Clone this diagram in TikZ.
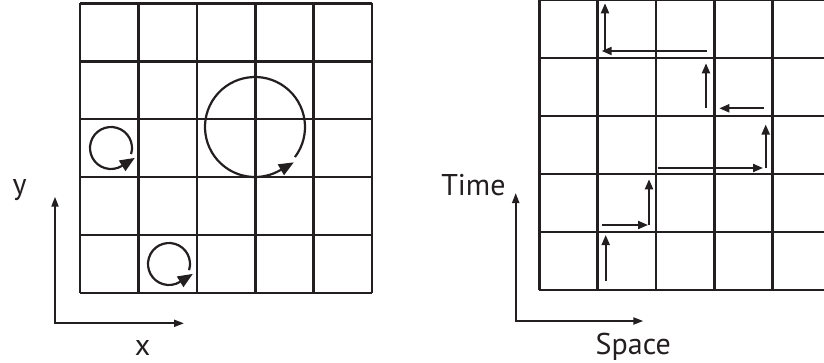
\documentclass[tikz,border=0pt]{standalone}
\usepackage{fontspec}
\setmainfont{PT Sans}
\usetikzlibrary{arrows.meta,calc}
\definecolor{ink}{RGB}{35,31,32}
\begin{document}
\begin{tikzpicture}[x=1pt,y=-1pt,
  gridline/.style={line width=2.6pt, draw=ink},
  steparrow/.style={line width=2pt, draw=ink, -{Triangle[length=10pt,width=8pt]}},
  axisarrow/.style={line width=2pt, draw=ink, line join=miter,
    {Triangle[length=10pt,width=7pt]}-{Triangle[length=10pt,width=7pt]}},
  loopline/.style={line width=2.2pt, draw=ink},
  looptip/.style={line width=2.2pt, draw=ink, fill=ink, -{Triangle[length=15pt,width=12pt]}},
  lbl/.style={font=\fontsize{30}{36}\selectfont, text=ink, inner sep=0pt, anchor=base}]
\useasboundingbox (0,0) rectangle (824,362);
\clip (0,0) rectangle (824,362);

% ---------- left grid ----------
\foreach \i in {0,...,5} {
  \draw[gridline] ({80+58.4*\i},3.3) -- ({80+58.4*\i},292.8);
  \draw[gridline] (80,{3.3+57.9*\i}) -- (372,{3.3+57.9*\i});
}

% loops
\coordinate (c1) at (111,148);
\coordinate (c2) at (169,264);
\coordinate (c3) at (255,127);
\draw[loopline] ($(c1)+(17:21)$) arc[start angle=17, end angle=-302, radius=21];
\draw[looptip] ($(c1)+(58:21)$) coordinate (t1) -- ($(t1)+(-32:15)$);
\draw[loopline] ($(c2)+(17:21)$) arc[start angle=17, end angle=-302, radius=21];
\draw[looptip] ($(c2)+(58:21)$) coordinate (t2) -- ($(t2)+(-32:15)$);
\draw[loopline] ($(c3)+(37:50)$) arc[start angle=37, end angle=-300, radius=50];
\draw[looptip] ($(c3)+(60:50)$) coordinate (t3) -- ($(t3)+(-30:16)$);

% left axes
\coordinate (lyt) at (55,196.7);
\coordinate (lo) at (55,323.3);
\coordinate (lxt) at (184,323.3);
\draw[axisarrow] (lyt) -- (lo) -- (lxt);
\node[lbl] (ylab) at (19.5,194) {y};
\node[lbl] (xlab) at (142.7,355) {x};

% ---------- right grid ----------
\foreach \i in {0,...,5} {
  \draw[gridline] ({539.3+58.35*\i},0) -- ({539.3+58.35*\i},290);
  \draw[gridline] (539.3,{58*\i}) -- (840,{58*\i});
}

% path arrows
\draw[steparrow] (605.7,281) -- (605.7,235);
\draw[steparrow] (601.7,225) -- (648,225);
\draw[steparrow] (649,225) -- (649,179.3);
\draw[steparrow] (657.7,168) -- (763,168);
\draw[steparrow] (765.7,168.3) -- (765.7,124.5);
\draw[steparrow] (764,108.3) -- (719.3,108.3);
\draw[steparrow] (706,108.3) -- (706,63.3);
\draw[steparrow] (706.5,51) -- (601.7,51);
\draw[steparrow] (605,51) -- (605,3.3);

% right axes
\coordinate (ryt) at (515.7,193);
\coordinate (ro) at (515.7,321);
\coordinate (rxt) at (643.3,321);
\draw[axisarrow] (ryt) -- (ro) -- (rxt);
\node[lbl] (tlab) at (473.4,195) {Time};
\node[lbl] (slab) at (633.3,354) {Space};
\end{tikzpicture}
\end{document}
